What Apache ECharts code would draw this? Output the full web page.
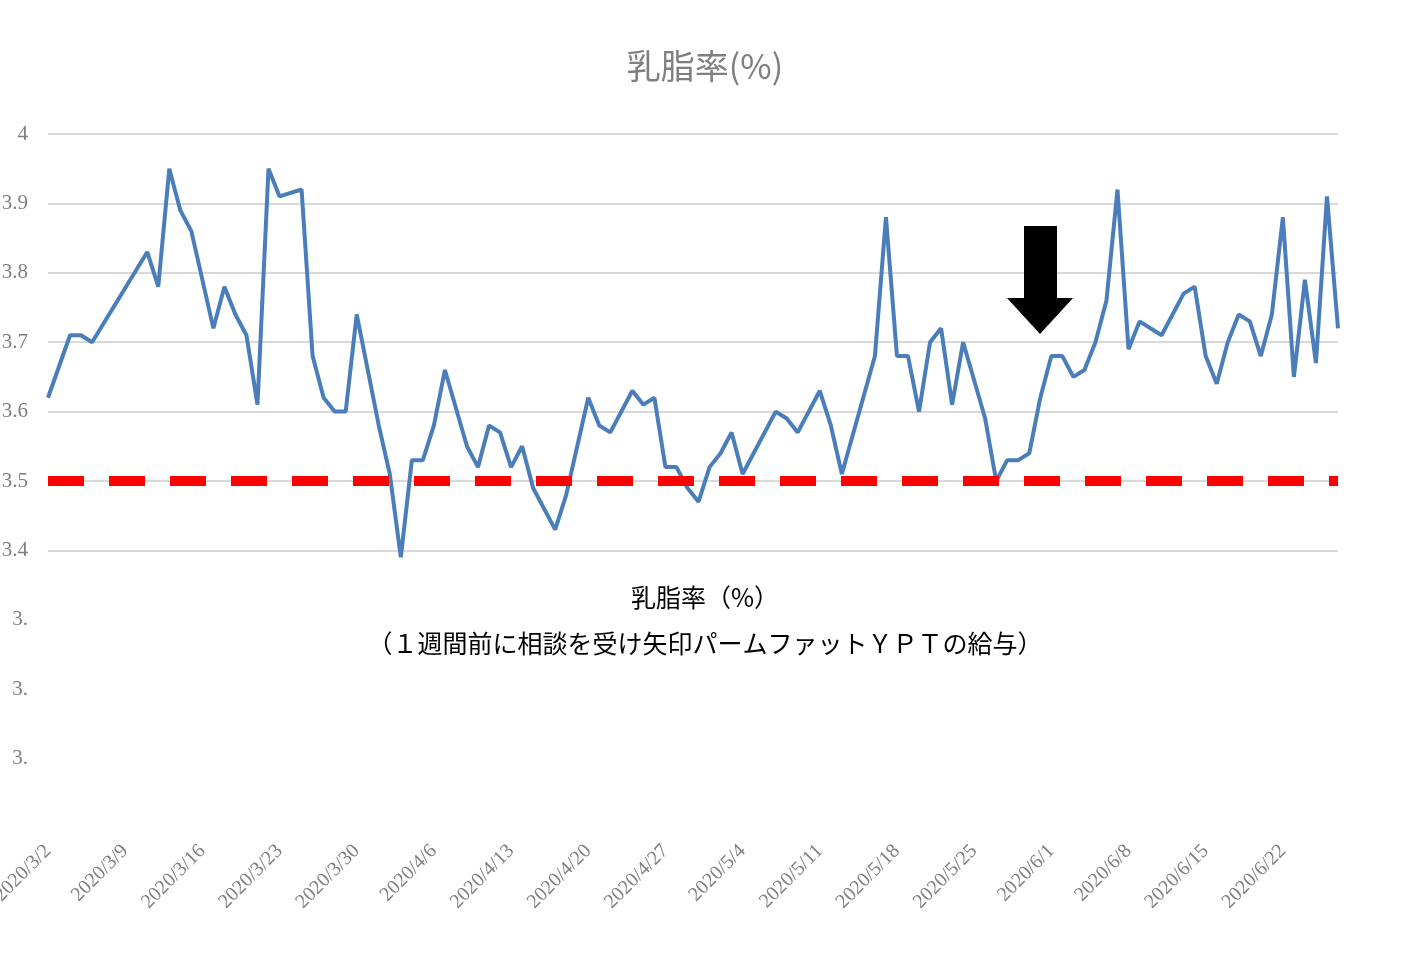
<!DOCTYPE html>
<html>
<head>
<meta charset="utf-8">
<script src="https://cdn.jsdelivr.net/npm/echarts@6/dist/echarts.min.js"></script>
<style>html,body{margin:0;padding:0;background:#fff}#chart{width:1410px;height:979px}</style>
</head>
<body>
<div id="chart"></div>
<script>
// day offsets from 2020/3/2 and the value read on that day
const dayIndex = [0,2,3,4,9,10,11,12,13,15,16,17,18,19,20,21,23,24,25,26,27,28,30,31,32,33,34,35,36,
  38,39,40,41,42,43,44,46,47,49,50,51,53,54,55,56,57,58,59,60,61,62,63,66,67,68,70,71,72,75,76,77,78,
  79,80,81,82,83,85,86,87,88,89,90,91,92,93,94,95,96,97,98,99,101,103,104,105,106,107,108,109,110,111,112,113,114,115,116,117];
const fatRate = [3.62,3.71,3.71,3.70,3.83,3.78,3.95,3.89,3.86,3.72,3.78,3.74,3.71,3.61,3.95,3.91,3.92,3.68,3.62,3.60,3.60,3.74,3.58,3.51,3.39,3.53,3.53,3.58,3.66,
  3.55,3.52,3.58,3.57,3.52,3.55,3.49,3.43,3.48,3.62,3.58,3.57,3.63,3.61,3.62,3.52,3.52,3.49,3.47,3.52,3.54,3.57,3.51,3.60,3.59,3.57,3.63,3.58,3.51,3.68,3.88,3.68,3.68,
  3.60,3.70,3.72,3.61,3.70,3.59,3.50,3.53,3.53,3.54,3.62,3.68,3.68,3.65,3.66,3.70,3.76,3.92,3.69,3.73,3.71,3.77,3.78,3.68,3.64,3.70,3.74,3.73,3.68,3.74,3.88,3.65,3.79,3.67,3.91,3.72];
const threshold = 3.5;
const dayCount = 118;

const dates = [];
for (let i = 0; i < dayCount; i++) {
  const d = new Date(2020, 2, 2 + i);
  dates.push(d.getFullYear() + '/' + (d.getMonth() + 1) + '/' + d.getDate());
}
const values = new Array(dayCount).fill(null);
dayIndex.forEach((d, i) => { values[d] = fatRate[i]; });

var myChart = echarts.init(document.getElementById('chart'));

var option = {
  animation: false,
  title: {
    text: '乳脂率(%)',
    left: 'center',
    top: 44,
    textStyle: { color: '#7f7f7f', fontSize: 34, fontWeight: 'normal', fontFamily: 'Liberation Sans Narrow, Noto Sans CJK JP' }
  },
  grid: { left: 48, right: 72, top: 134, bottom: 151, outerBoundsMode: 'none' },
  xAxis: {
    type: 'category',
    data: dates,
    boundaryGap: false,
    axisLine: { show: false },
    axisTick: { show: false },
    axisLabel: { interval: 6, rotate: 45, color: '#7f7f7f', fontSize: 20, margin: 20, fontFamily: 'Liberation Sans Narrow' }
  },
  yAxis: {
    type: 'value',
    min: 3.0,
    max: 4.0,
    interval: 0.1,
    axisLine: { show: false },
    axisTick: { show: false },
    splitLine: { lineStyle: { color: '#d9d9d9', width: 2 } },
    axisLabel: {
      color: '#7f7f7f', fontSize: 21, margin: 20, fontFamily: 'Liberation Sans Narrow',
      formatter: function (v) {
        if (v < 3.05) return '';
        if (v < 3.35) return '3.';
        return Math.abs(v - 4) < 1e-6 ? '4' : v.toFixed(1);
      }
    }
  },
  series: [{
    type: 'line',
    data: values,
    connectNulls: true,
    showSymbol: false,
    lineStyle: { color: '#4a7ebb', width: 4 },
    markLine: {
      silent: true,
      symbol: 'none',
      label: { show: false },
      lineStyle: { color: '#ff0000', width: 10, type: [36, 25] },
      data: [{ yAxis: threshold }]
    }
  }],
  graphic: [
    { type: 'rect', left: 35, top: 562, shape: { width: 1330, height: 268 }, style: { fill: '#fff' }, z: 100 },
    { type: 'text', left: 'center', top: 585, z: 101,
      style: { text: '乳脂率（%）', fontSize: 25, fill: '#000', fontFamily: 'Noto Sans CJK JP' } },
    { type: 'text', left: 'center', top: 631, z: 101,
      style: { text: '（１週間前に相談を受け矢印パームファットＹＰＴの給与）', fontSize: 25, fill: '#000', fontFamily: 'Noto Sans CJK JP' } },
    { type: 'polygon', z: 102,
      shape: { points: [[1024,226],[1057,226],[1057,298],[1073,298],[1040,334],[1007,298],[1024,298]] },
      style: { fill: '#000' } }
  ]
};

myChart.setOption(option);
window.addEventListener('resize', myChart.resize);
</script>
</body>
</html>
